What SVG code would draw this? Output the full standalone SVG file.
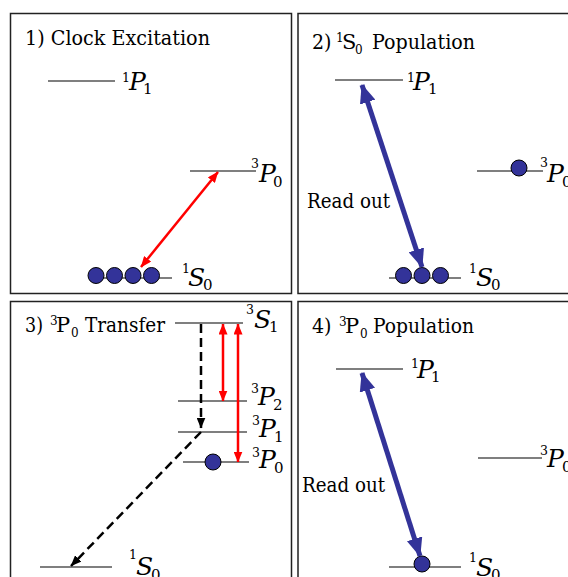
<svg xmlns="http://www.w3.org/2000/svg" width="568" height="577" viewBox="0 0 568 577">
<style>
.box{fill:none;stroke:#222;stroke-width:1.5}
.lvl{stroke:#000;stroke-width:1.2}
text{font-family:'DejaVu Serif',serif;fill:#000}
.t{font-size:21px}
.ts{font-size:12px}
.big{font-size:25px;font-style:italic}
.sm{font-size:12.5px}
.sb{font-size:15px}
.atom{fill:#333399;stroke:#000;stroke-width:1}
.red{stroke:#ff0000;stroke-width:2.5;fill:none;marker-start:url(#rh);marker-end:url(#rh)}
.blue{stroke:#333399;stroke-width:5;fill:none;marker-start:url(#bh);marker-end:url(#bh)}
.dash{stroke:#000;stroke-width:2.5;fill:none;stroke-dasharray:9 5;marker-end:url(#kh)}
</style>
<defs>
<marker id="rh" markerUnits="userSpaceOnUse" viewBox="0 0 11 9" refX="10.5" refY="4.5" markerWidth="11" markerHeight="9" orient="auto-start-reverse"><path d="M0,0 L11,4.5 L0,9 z" fill="#ff0000"/></marker>
<marker id="bh" markerUnits="userSpaceOnUse" viewBox="0 0 19 16" refX="18" refY="8" markerWidth="19" markerHeight="16" orient="auto-start-reverse"><path d="M0,0 L19,8 L0,16 z" fill="#333399"/></marker>
<marker id="kh" markerUnits="userSpaceOnUse" viewBox="0 0 11 9" refX="10.5" refY="4.5" markerWidth="11" markerHeight="9" orient="auto"><path d="M0,0 L11,4.5 L0,9 z" fill="#000"/></marker>
</defs>
<g id="panel1">
<rect class="box" x="10.5" y="13.5" width="281" height="280"/>
<text class="t" x="25" y="45" textLength="185" lengthAdjust="spacingAndGlyphs">1) Clock Excitation</text>
<g id="p1-1P1"><line class="lvl" x1="48" y1="81" x2="115" y2="81"/>
<text><tspan class="sm" x="122" y="82">1</tspan><tspan class="big" x="129" y="90">P</tspan><tspan class="sb" x="143" y="94">1</tspan></text></g>
<g id="p1-3P0"><line class="lvl" x1="190" y1="171" x2="256" y2="171"/>
<text><tspan class="sm" x="251" y="168">3</tspan><tspan class="big" x="259" y="182">P</tspan><tspan class="sb" x="273" y="187">0</tspan></text></g>
<g id="p1-1S0"><line class="lvl" x1="90" y1="278" x2="172" y2="278"/>
<circle class="atom" cx="96" cy="275.5" r="8"/><circle class="atom" cx="114.5" cy="275.5" r="8"/><circle class="atom" cx="133" cy="275.5" r="8"/><circle class="atom" cx="151.5" cy="275.5" r="8"/>
<text><tspan class="sm" x="182" y="273">1</tspan><tspan class="big" x="188" y="286">S</tspan><tspan class="sb" x="203" y="290">0</tspan></text></g>
</g>

<g id="panel2">
<rect class="box" x="298" y="13.5" width="290" height="280"/>
<text class="t"><tspan x="312" y="49" textLength="19.5" lengthAdjust="spacingAndGlyphs">2)</tspan><tspan class="ts" x="336" y="42">1</tspan><tspan x="342" y="49">S</tspan><tspan class="ts" x="355" y="54">0</tspan><tspan x="372" y="49" textLength="103" lengthAdjust="spacingAndGlyphs">Population</tspan></text>
<g id="p2-1P1"><line class="lvl" x1="335" y1="80" x2="403" y2="80"/>
<text><tspan class="sm" x="407" y="82">1</tspan><tspan class="big" x="413" y="90">P</tspan><tspan class="sb" x="428" y="94">1</tspan></text></g>
<g id="p2-3P0"><line class="lvl" x1="477" y1="171" x2="543" y2="171"/>
<circle class="atom" cx="519" cy="168" r="8"/>
<text><tspan class="sm" x="540" y="167">3</tspan><tspan class="big" x="547" y="182">P</tspan><tspan class="sb" x="562" y="187">0</tspan></text></g>
<g id="p2-1S0"><line class="lvl" x1="389" y1="278" x2="461" y2="278"/>
<circle class="atom" cx="403.5" cy="275.5" r="8"/><circle class="atom" cx="422" cy="275.5" r="8"/><circle class="atom" cx="440.5" cy="275.5" r="8"/>
<text><tspan class="sm" x="469" y="273">1</tspan><tspan class="big" x="476" y="286">S</tspan><tspan class="sb" x="491" y="290">0</tspan></text></g>
<text class="t" x="307" y="208" textLength="83" lengthAdjust="spacingAndGlyphs">Read out</text>
</g>

<g id="panel3">
<rect class="box" x="10.5" y="301.5" width="281" height="290"/>
<text class="t"><tspan x="25" y="332" textLength="18" lengthAdjust="spacingAndGlyphs">3)</tspan><tspan class="ts" x="50" y="325">3</tspan><tspan x="56" y="332">P</tspan><tspan class="ts" x="71" y="337">0</tspan><tspan x="85" y="332" textLength="80" lengthAdjust="spacingAndGlyphs">Transfer</tspan></text>
<g id="p3-3S1"><line class="lvl" x1="175" y1="323" x2="243" y2="323"/>
<text><tspan class="sm" x="246" y="314">3</tspan><tspan class="big" x="254" y="328">S</tspan><tspan class="sb" x="269" y="332">1</tspan></text></g>
<g id="p3-3P2"><line class="lvl" x1="178" y1="401" x2="247" y2="401"/>
<text><tspan class="sm" x="251" y="393">3</tspan><tspan class="big" x="258" y="405">P</tspan><tspan class="sb" x="273" y="410">2</tspan></text></g>
<g id="p3-3P1"><line class="lvl" x1="178" y1="432" x2="247" y2="432"/>
<text><tspan class="sm" x="252" y="425">3</tspan><tspan class="big" x="259" y="437">P</tspan><tspan class="sb" x="274" y="442">1</tspan></text></g>
<g id="p3-3P0"><line class="lvl" x1="183" y1="462" x2="249" y2="462"/>
<circle class="atom" cx="213" cy="462" r="8"/>
<text><tspan class="sm" x="252" y="457">3</tspan><tspan class="big" x="259" y="468">P</tspan><tspan class="sb" x="274" y="473">0</tspan></text></g>
<g id="p3-1S0"><line class="lvl" x1="40" y1="567" x2="112" y2="567"/>
<text><tspan class="sm" x="129" y="559">1</tspan><tspan class="big" x="136" y="575">S</tspan><tspan class="sb" x="151" y="580">0</tspan></text></g>
</g>

<g id="panel4">
<rect class="box" x="298" y="301.5" width="290" height="290"/>
<text class="t"><tspan x="312" y="333" textLength="19.5" lengthAdjust="spacingAndGlyphs">4)</tspan><tspan class="ts" x="339" y="326">3</tspan><tspan x="345" y="333">P</tspan><tspan class="ts" x="360" y="338">0</tspan><tspan x="373" y="333" textLength="101" lengthAdjust="spacingAndGlyphs">Population</tspan></text>
<g id="p4-1P1"><line class="lvl" x1="336" y1="369" x2="403" y2="369"/>
<text><tspan class="sm" x="411" y="368">1</tspan><tspan class="big" x="417" y="378">P</tspan><tspan class="sb" x="431" y="382">1</tspan></text></g>
<g id="p4-3P0"><line class="lvl" x1="478" y1="458" x2="542" y2="458"/>
<text><tspan class="sm" x="540" y="455">3</tspan><tspan class="big" x="547" y="467">P</tspan><tspan class="sb" x="562" y="472">0</tspan></text></g>
<g id="p4-1S0"><line class="lvl" x1="389" y1="567" x2="461" y2="567"/>
<circle class="atom" cx="422" cy="564" r="8"/>
<text><tspan class="sm" x="469" y="562">1</tspan><tspan class="big" x="476" y="576">S</tspan><tspan class="sb" x="491" y="580">0</tspan></text></g>
<text class="t" x="302" y="492" textLength="83" lengthAdjust="spacingAndGlyphs">Read out</text>
</g>
<g id="connectors">
<line class="red" x1="218" y1="172" x2="141" y2="267"/>
<line class="blue" x1="362" y1="85" x2="422" y2="267"/>
<line class="dash" x1="201" y1="324" x2="201" y2="428"/>
<line class="dash" x1="201" y1="432" x2="71" y2="566"/>
<line class="red" x1="223" y1="324" x2="223" y2="401"/>
<line class="red" x1="238" y1="324" x2="238" y2="462"/>
<line class="blue" x1="362" y1="373" x2="420" y2="556"/>
</g>
</svg>
